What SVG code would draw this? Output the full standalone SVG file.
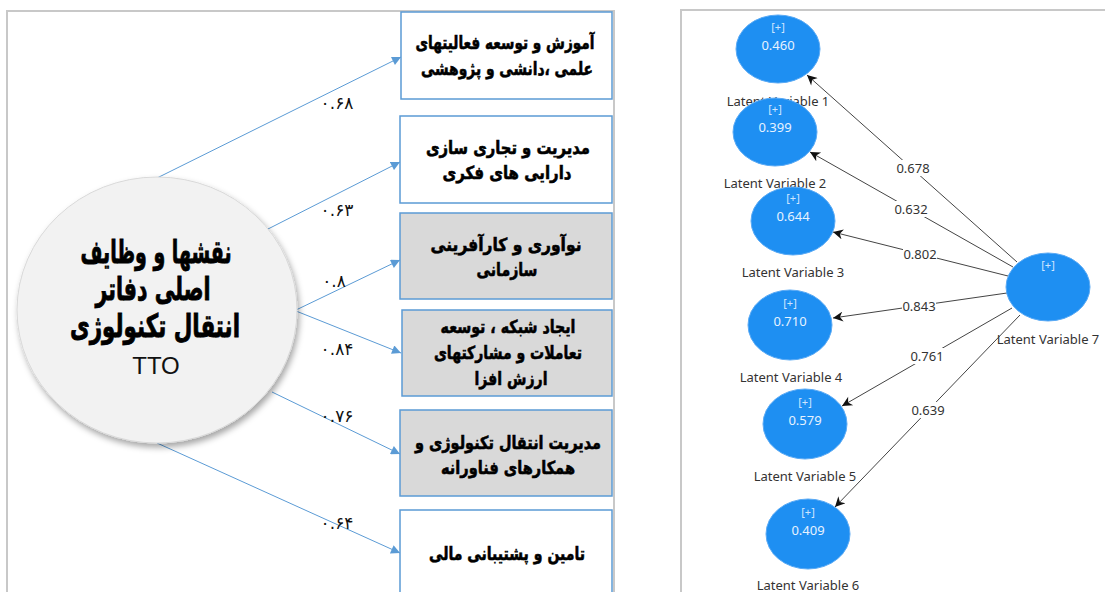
<svg xmlns="http://www.w3.org/2000/svg" width="1105" height="592" viewBox="0 0 1105 592">
<defs>
  <marker id="ab" viewBox="0 0 10 10" refX="10" refY="5" markerWidth="10" markerHeight="9" markerUnits="userSpaceOnUse" orient="auto">
    <path d="M0,0 L10,5 L0,10 z" fill="#5b9bd5"/>
  </marker>
  <marker id="ak" viewBox="0 0 10 10" refX="10" refY="5" markerWidth="12" markerHeight="10" markerUnits="userSpaceOnUse" orient="auto">
    <path d="M0,0 L10,5 L0,10 L3,5 z" fill="#111"/>
  </marker>
  <filter id="sh" x="-20%" y="-20%" width="140%" height="140%">
    <feDropShadow dx="2" dy="4" stdDeviation="3" flood-color="#000" flood-opacity="0.35"/>
  </filter>
  <style>
    .frame{fill:none;stroke:#c8c8c8;stroke-width:2}
    .box{stroke:#5b9bd5;stroke-width:1.5}
    .wb{fill:#ffffff}
    .gb{fill:#d9d9d9}
    .fa{font-family:"DejaVu Sans","Noto Sans",sans-serif;font-weight:bold;fill:#000;stroke:#000;text-anchor:middle;direction:rtl}
    .bt{font-size:18px;stroke-width:0.6}
    .ct{font-size:32px;stroke-width:0.9}
    .tto{font-family:"Liberation Sans",Arial,sans-serif;font-size:24px;fill:#111;text-anchor:middle}
    .bl{stroke:#5b9bd5;stroke-width:1;fill:none;marker-end:url(#ab)}
    .nl{font-family:"DejaVu Sans",serif;font-size:17px;fill:#111;text-anchor:middle;direction:ltr}
    .lv{fill:#1e8ff2;stroke:#5aaaf5;stroke-width:1}
    .pl{font-family:"Noto Sans","Open Sans",sans-serif;font-size:11px;fill:#cfe6ff;text-anchor:middle}
    .vl{font-family:"Noto Sans","Open Sans",sans-serif;font-size:13px;fill:#e6f2ff;text-anchor:middle}
    .ln{font-family:"Noto Sans","Open Sans",sans-serif;font-size:13px;fill:#333;text-anchor:middle}
    .kl{stroke:#444;stroke-width:1;fill:none;marker-end:url(#ak)}
    .el{font-family:"Noto Sans","Open Sans",sans-serif;font-size:13px;fill:#333;text-anchor:middle}
  </style>
</defs>
<rect width="1105" height="592" fill="#ffffff"/>
<rect class="frame" x="7" y="11" width="607" height="600"/>
<rect class="frame" x="681" y="10" width="440" height="600"/>

<g id="left-connectors">
  <line class="bl" x1="157" y1="178" x2="401" y2="57"/>
  <line class="bl" x1="268" y1="229" x2="400" y2="162"/>
  <line class="bl" x1="296" y1="310" x2="400" y2="260"/>
  <line class="bl" x1="296" y1="311" x2="401" y2="353"/>
  <line class="bl" x1="272" y1="392" x2="400" y2="454"/>
  <line class="bl" x1="157" y1="443" x2="400" y2="553"/>
  <text class="nl" x="337" y="109">۰.۶۸</text>
  <text class="nl" x="337" y="216">۰.۶۳</text>
  <text class="nl" x="334" y="287">۰.۸</text>
  <text class="nl" x="337" y="355">۰.۸۴</text>
  <text class="nl" x="337" y="422">۰.۷۶</text>
  <text class="nl" x="337" y="529">۰.۶۴</text>
</g>

<g id="tto">
  <ellipse cx="157" cy="310" rx="140" ry="133" fill="#f2f2f2" stroke="#d9d9d9" stroke-width="1" filter="url(#sh)"/>
  <text class="fa ct" x="156" y="263" textLength="151" lengthAdjust="spacingAndGlyphs">نقشها و وظایف</text>
  <text class="fa ct" x="153" y="300" textLength="115" lengthAdjust="spacingAndGlyphs">اصلی دفاتر</text>
  <text class="fa ct" x="155" y="337" textLength="170" lengthAdjust="spacingAndGlyphs">انتقال تکنولوژی</text>
  <text class="tto" x="156" y="374">TTO</text>
</g>

<g id="box1">
  <rect class="box wb" x="401" y="12" width="211" height="87"/>
  <text class="fa bt" x="505" y="49" textLength="179" lengthAdjust="spacingAndGlyphs">آموزش و توسعه فعالیتهای</text>
  <text class="fa bt" x="507" y="75" textLength="172" lengthAdjust="spacingAndGlyphs">علمی ،دانشی و پژوهشی</text>
</g>
<g id="box2">
  <rect class="box wb" x="400" y="116" width="212" height="87"/>
  <text class="fa bt" x="508" y="154" textLength="164" lengthAdjust="spacingAndGlyphs">مدیریت و تجاری سازی</text>
  <text class="fa bt" x="507" y="179" textLength="129" lengthAdjust="spacingAndGlyphs">دارایی های فکری</text>
</g>
<g id="box3">
  <rect class="box gb" x="400" y="213" width="212" height="86"/>
  <text class="fa bt" x="506" y="251" textLength="151" lengthAdjust="spacingAndGlyphs">نوآوری و کارآفرینی</text>
  <text class="fa bt" x="507" y="276" textLength="61" lengthAdjust="spacingAndGlyphs">سازمانی</text>
</g>
<g id="box4">
  <rect class="box gb" x="402" y="310" width="210" height="86"/>
  <text class="fa bt" x="508" y="333" textLength="135" lengthAdjust="spacingAndGlyphs">ایجاد شبکه ، توسعه</text>
  <text class="fa bt" x="508" y="359" textLength="148" lengthAdjust="spacingAndGlyphs">تعاملات و مشارکتهای</text>
  <text class="fa bt" x="511" y="385" textLength="73" lengthAdjust="spacingAndGlyphs">ارزش افزا</text>
</g>
<g id="box5">
  <rect class="box gb" x="400" y="410" width="212" height="86"/>
  <text class="fa bt" x="508" y="449" textLength="186" lengthAdjust="spacingAndGlyphs">مدیریت انتقال تکنولوژی و</text>
  <text class="fa bt" x="508" y="474" textLength="134" lengthAdjust="spacingAndGlyphs">همکارهای فناورانه</text>
</g>
<g id="box6">
  <rect class="box wb" x="400" y="510" width="212" height="100"/>
  <text class="fa bt" x="507" y="560" textLength="156" lengthAdjust="spacingAndGlyphs">تامین و پشتیبانی مالی</text>
</g>

<g id="right-connectors">
  <line class="kl" x1="1017" y1="262" x2="807" y2="75"/>
  <line class="kl" x1="1013" y1="267" x2="810" y2="152"/>
  <line class="kl" x1="1008" y1="276" x2="833" y2="232"/>
  <line class="kl" x1="1007" y1="293" x2="833" y2="318"/>
  <line class="kl" x1="1012" y1="308" x2="842" y2="406"/>
  <line class="kl" x1="1020" y1="315" x2="835" y2="507"/>
  <rect x="896" y="160" width="34" height="16" fill="#fff"/>
  <text class="el" x="913" y="173">0.678</text>
  <rect x="894" y="201" width="34" height="16" fill="#fff"/>
  <text class="el" x="911" y="214">0.632</text>
  <rect x="903" y="246" width="34" height="16" fill="#fff"/>
  <text class="el" x="920" y="259">0.802</text>
  <rect x="902" y="298" width="34" height="16" fill="#fff"/>
  <text class="el" x="919" y="311">0.843</text>
  <rect x="910" y="348" width="34" height="16" fill="#fff"/>
  <text class="el" x="927" y="361">0.761</text>
  <rect x="911" y="402" width="34" height="16" fill="#fff"/>
  <text class="el" x="928" y="415">0.639</text>
</g>

<g id="lv1">
  <ellipse class="lv" cx="778" cy="49" rx="42" ry="34"/>
  <text class="pl" x="778" y="31">[+]</text>
  <text class="vl" x="778" y="50">0.460</text>
  <text class="ln" x="778" y="106">Latent Variable 1</text>
</g>
<g id="lv2">
  <ellipse class="lv" cx="775" cy="132" rx="42" ry="34"/>
  <text class="pl" x="775" y="113">[+]</text>
  <text class="vl" x="775" y="132">0.399</text>
  <text class="ln" x="775" y="188">Latent Variable 2</text>
</g>
<g id="lv3">
  <ellipse class="lv" cx="793" cy="221" rx="42" ry="34"/>
  <text class="pl" x="793" y="202">[+]</text>
  <text class="vl" x="793" y="221">0.644</text>
  <text class="ln" x="793" y="277">Latent Variable 3</text>
</g>
<g id="lv4">
  <ellipse class="lv" cx="790" cy="325" rx="42" ry="35"/>
  <text class="pl" x="790" y="307">[+]</text>
  <text class="vl" x="790" y="326">0.710</text>
  <text class="ln" x="791" y="382">Latent Variable 4</text>
</g>
<g id="lv5">
  <ellipse class="lv" cx="805" cy="424" rx="42" ry="35"/>
  <text class="pl" x="805" y="406">[+]</text>
  <text class="vl" x="805" y="425">0.579</text>
  <text class="ln" x="805" y="481">Latent Variable 5</text>
</g>
<g id="lv6">
  <ellipse class="lv" cx="808" cy="534" rx="42" ry="35"/>
  <text class="pl" x="808" y="516">[+]</text>
  <text class="vl" x="808" y="535">0.409</text>
  <text class="ln" x="808" y="590">Latent Variable 6</text>
</g>
<g id="lv7">
  <ellipse class="lv" cx="1048" cy="287" rx="42" ry="34"/>
  <text class="pl" x="1048" y="269">[+]</text>
  <text class="ln" x="1048" y="344">Latent Variable 7</text>
</g>
</svg>
